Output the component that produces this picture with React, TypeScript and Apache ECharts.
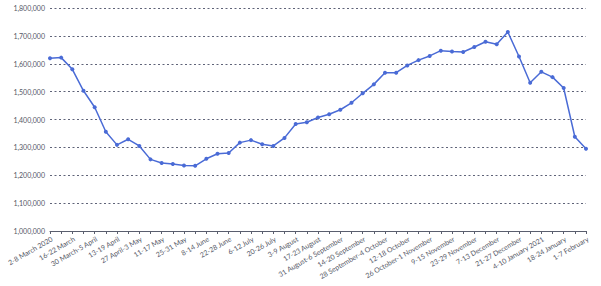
import React, { useEffect, useRef } from "react";
import * as echarts from "echarts";

const weeks: string[] = [
  "2-8 March 2020", "9-15 March", "16-22 March", "23-29 March", "30 March-5 April",
  "6-12 April", "13-19 April", "20-26 April", "27 April-3 May", "4-10 May",
  "11-17 May", "18-24 May", "25-31 May", "1-7 June", "8-14 June",
  "15-21 June", "22-28 June", "29 June-5 July", "6-12 July", "13-19 July",
  "20-26 July", "27 July-2 August", "3-9 August", "10-16 August", "17-23 August",
  "24-30 August", "31 August-6 September", "7-13 September", "14-20 September", "21-27 September",
  "28 September-4 October", "5-11 October", "12-18 October", "19-25 October", "26 October-1 November",
  "2-8 November", "9-15 November", "16-22 November", "23-29 November", "30 November-6 December",
  "7-13 December", "14-20 December", "21-27 December", "28 December-3 January 2021", "4-10 January 2021",
  "11-17 January", "18-24 January", "25-31 January", "1-7 February",
];

const values: number[] = [
  1620000, 1622000, 1580000, 1503000, 1444000,
  1356000, 1309000, 1329000, 1305000, 1257000,
  1244000, 1240000, 1235000, 1234000, 1259000,
  1277000, 1280000, 1317000, 1326000, 1311000,
  1305000, 1334000, 1384000, 1390000, 1407000,
  1419000, 1435000, 1460000, 1494000, 1526000,
  1568000, 1568000, 1594000, 1613000, 1628000,
  1647000, 1644000, 1642000, 1660000, 1679000,
  1670000, 1714000, 1626000, 1532000, 1571000,
  1552000, 1513000, 1338000, 1295000,
];

const yMin = 1000000;
const yMax = 1800000;
const yStep = 100000;

export default function App() {
  const ref = useRef<HTMLDivElement>(null);
  useEffect(() => {
    if (!ref.current) return;
    const chart = echarts.init(ref.current, undefined, { renderer: "svg" });
    chart.setOption({
      animation: false,
      grid: { left: 50, right: 15, top: 8, bottom: 55, containLabel: false },
      xAxis: {
        type: "category",
        data: weeks,
        boundaryGap: false,
        axisLine: { lineStyle: { color: "#5a5e6e", width: 1 } },
        axisTick: { show: true, interval: 0, length: 3, lineStyle: { color: "#5a5e6e" } },
        axisLabel: {
          interval: 1,
          rotate: 30,
          fontFamily: "Lato",
          fontSize: 7,
          color: "#555866",
          margin: 4,
          verticalAlign: "top",
        },
        splitLine: { show: false },
      },
      yAxis: {
        type: "value",
        min: yMin,
        max: yMax,
        interval: yStep,
        axisLine: { show: false },
        axisTick: { show: false },
        axisLabel: {
          fontFamily: "Lato",
          fontSize: 7,
          color: "#555866",
          margin: 5,
          formatter: (v: number) => v.toLocaleString("en-US"),
        },
        splitLine: { lineStyle: { color: "#5f6378", type: [2, 2.5], width: 1 } },
      },
      series: [
        {
          type: "line",
          data: values,
          symbol: "circle",
          symbolSize: 4,
          lineStyle: { color: "#4a6bd6", width: 1.5 },
          itemStyle: { color: "#4a6bd6" },
        },
      ],
    });
    return () => chart.dispose();
  }, []);
  return (
    <div
      ref={ref}
      style={{ position: "absolute", left: 0, top: 0, width: 601, height: 286 }}
    />
  );
}
